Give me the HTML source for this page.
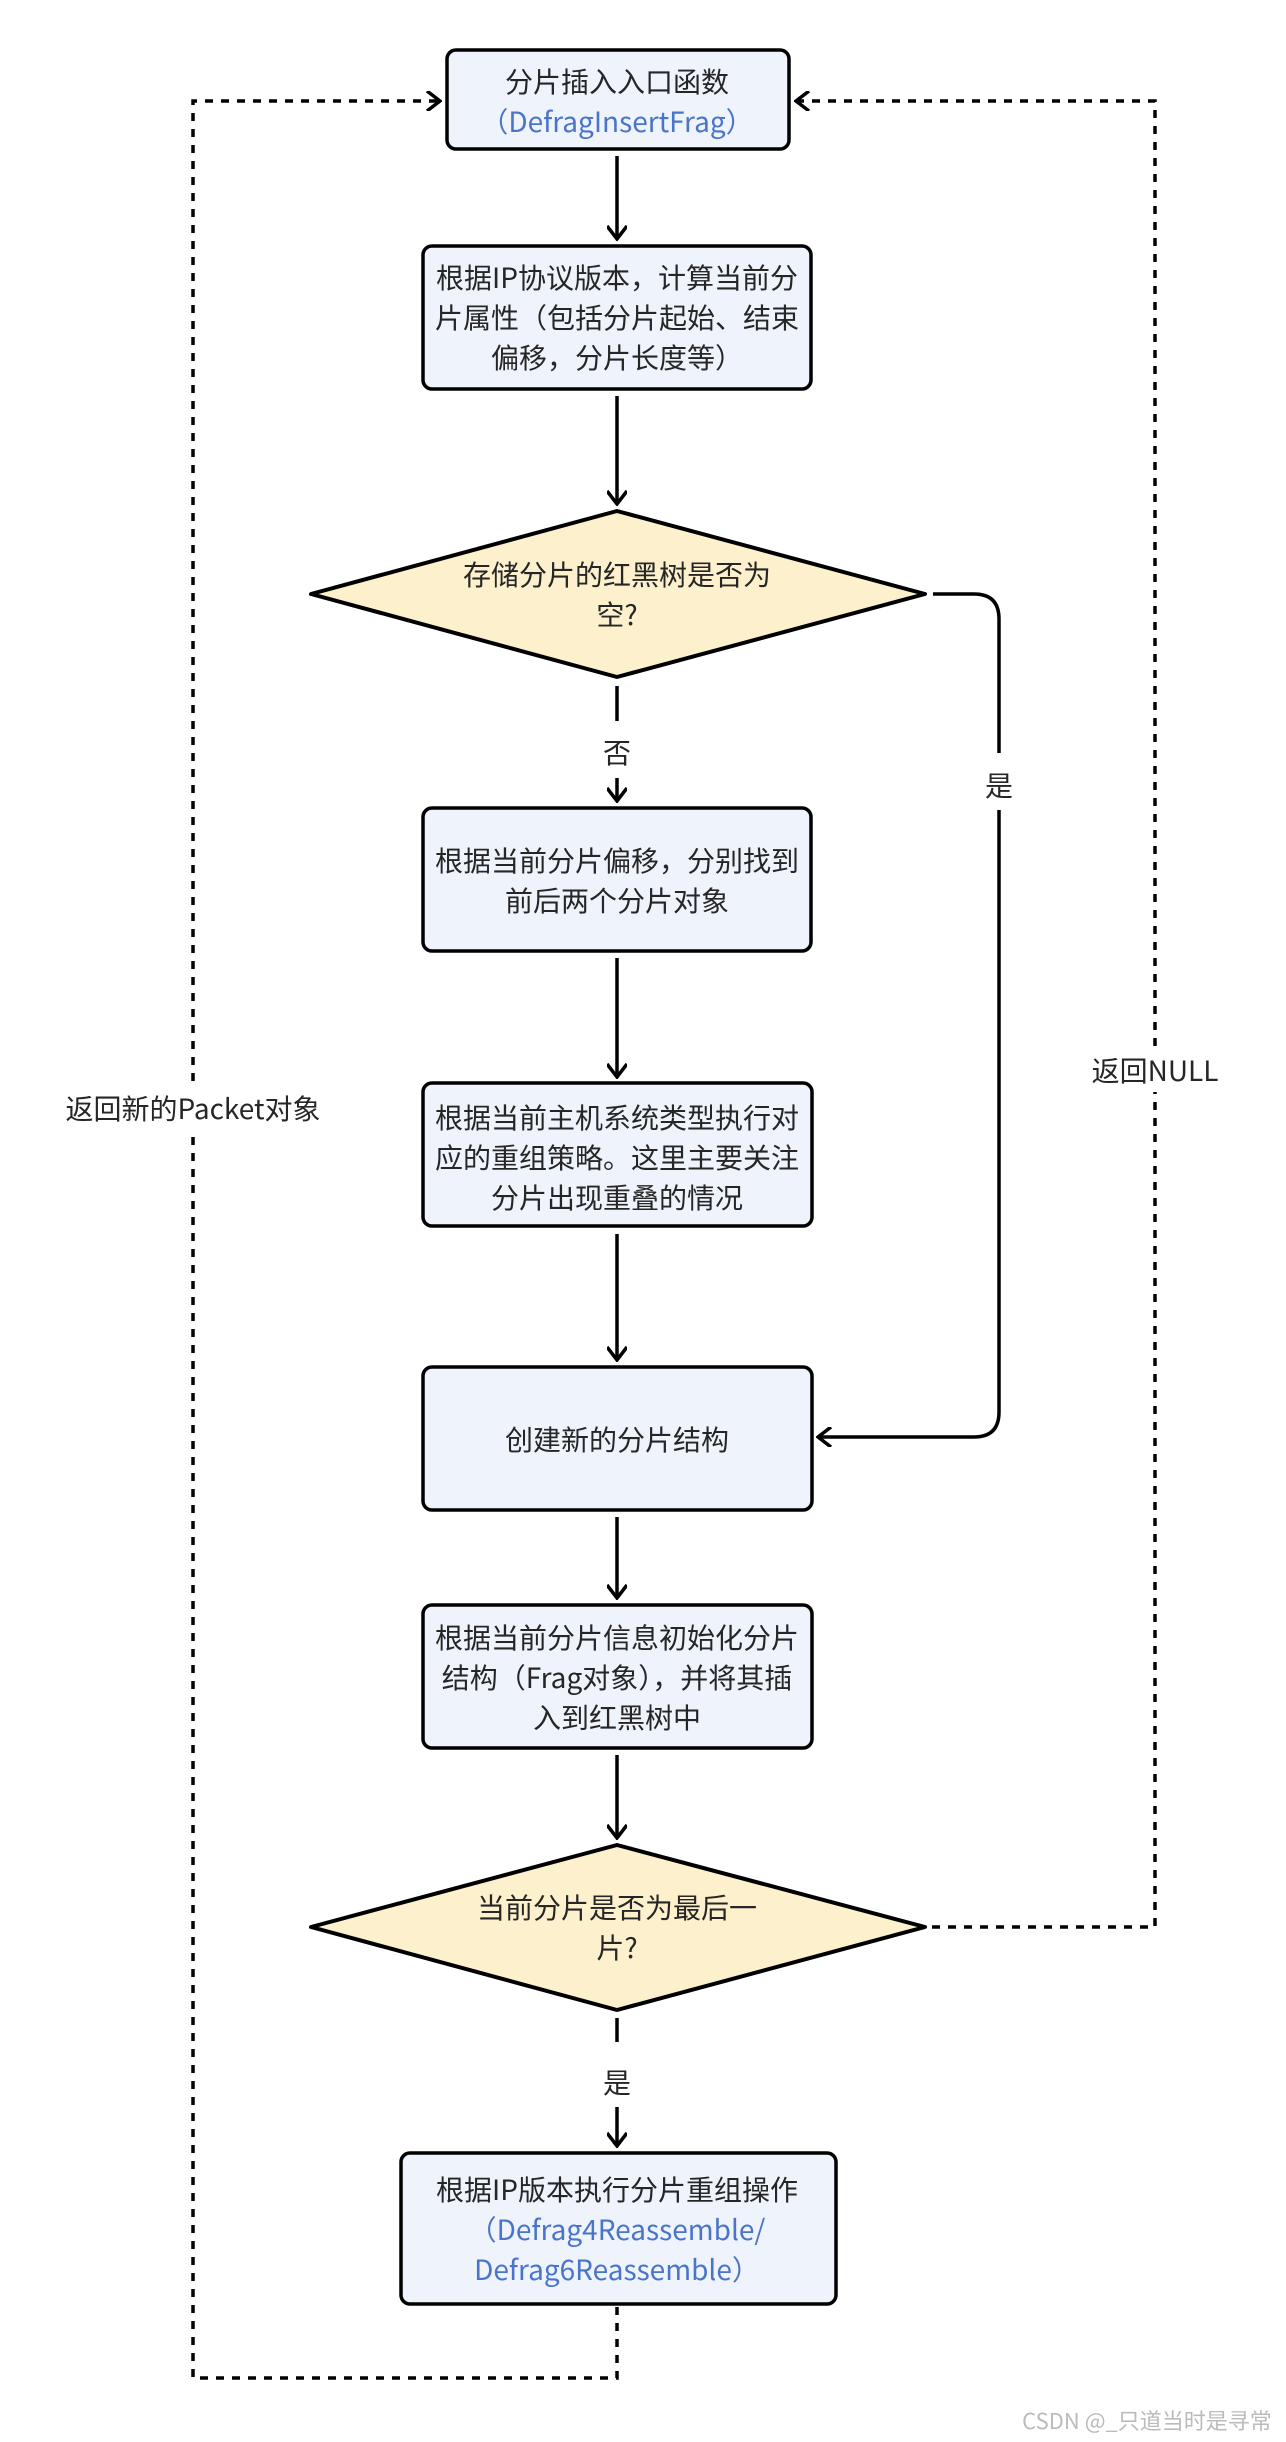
<!DOCTYPE html>
<html><head><meta charset="utf-8"><style>
html,body{margin:0;padding:0;background:#fff;}
svg{display:block;}
text{font-family:"Noto Sans CJK SC","Liberation Sans",sans-serif;font-size:28px;fill:#262626;}
.b{fill:#4a74c9;}
</style></head><body>
<svg width="1286" height="2442" viewBox="0 0 1286 2442" xmlns="http://www.w3.org/2000/svg">
<defs>
<marker id="ah" viewBox="0 0 20 20" refX="18" refY="10" markerWidth="20" markerHeight="20" markerUnits="userSpaceOnUse" orient="auto">
<path d="M5,0 L18,10 L5,20" fill="none" stroke="#000" stroke-width="3.5"/>
</marker>
</defs>
<g fill="none" stroke="#000" stroke-width="3.5" stroke-dasharray="8 8">
<path d="M617,2307 L617,2378 L193,2378 L193,101 L440,101" marker-end="url(#ah)"/>
<path d="M932,1927 L1155,1927 L1155,101 L796,101" marker-end="url(#ah)"/>
</g>
<g fill="none" stroke="#000" stroke-width="3.5">
<line x1="617" y1="156" x2="617" y2="239" marker-end="url(#ah)"/>
<line x1="617" y1="396" x2="617" y2="504" marker-end="url(#ah)"/>
<line x1="617" y1="686" x2="617" y2="721"/>
<line x1="617" y1="778" x2="617" y2="801" marker-end="url(#ah)"/>
<line x1="617" y1="958" x2="617" y2="1077" marker-end="url(#ah)"/>
<line x1="617" y1="1234" x2="617" y2="1360" marker-end="url(#ah)"/>
<line x1="617" y1="1517" x2="617" y2="1598" marker-end="url(#ah)"/>
<line x1="617" y1="1755" x2="617" y2="1838" marker-end="url(#ah)"/>
<line x1="617" y1="2018" x2="617" y2="2042"/>
<line x1="617" y1="2107" x2="617" y2="2146" marker-end="url(#ah)"/>
<path d="M933,594 L974,594 Q999,594 999,619 L999,753"/>
<path d="M999,810 L999,1412 Q999,1437 974,1437 L818,1437" marker-end="url(#ah)"/>
</g>
<g stroke="#000" stroke-width="3.5" fill="#eef3fc">
<rect x="447" y="50" width="342" height="99" rx="9"/>
<rect x="423" y="246" width="388" height="143" rx="9"/>
<rect x="423" y="808" width="388" height="143" rx="9"/>
<rect x="423" y="1083" width="389" height="143" rx="9"/>
<rect x="423" y="1367" width="389" height="143" rx="9"/>
<rect x="423" y="1605" width="389" height="143" rx="9"/>
<rect x="401" y="2153" width="435" height="151" rx="9"/>
</g>
<g stroke="#000" stroke-width="4" fill="#fdf0cc" stroke-linejoin="round">
<polygon points="617,511 925,594 617,677 311,594"/>
<polygon points="617,1845 925,1927 617,2010 311,1927"/>
</g>
<g text-anchor="middle" dominant-baseline="central">
<text x="617" y="81">分片插入入口函数</text>
<text x="617" y="121" class="b">（DefragInsertFrag）</text>
<text x="617" y="277">根据IP协议版本，计算当前分</text>
<text x="617" y="317">片属性（包括分片起始、结束</text>
<text x="617" y="357">偏移，分片长度等）</text>
<text x="617" y="574">存储分片的红黑树是否为</text>
<text x="617" y="614">空?</text>
<text x="617" y="752">否</text>
<text x="999" y="785">是</text>
<text x="617" y="860">根据当前分片偏移，分别找到</text>
<text x="617" y="900">前后两个分片对象</text>
<text x="617" y="1117">根据当前主机系统类型执行对</text>
<text x="617" y="1157">应的重组策略。这里主要关注</text>
<text x="617" y="1197">分片出现重叠的情况</text>
<text x="617" y="1439">创建新的分片结构</text>
<text x="617" y="1637">根据当前分片信息初始化分片</text>
<text x="617" y="1677">结构（Frag对象），并将其插</text>
<text x="617" y="1717">入到红黑树中</text>
<text x="617" y="1907">当前分片是否为最后一</text>
<text x="617" y="1947">片?</text>
<text x="617" y="2082">是</text>
<text x="617" y="2189">根据IP版本执行分片重组操作</text>
<text x="617" y="2229" class="b">（Defrag4Reassemble/</text>
<text x="617" y="2269" class="b">Defrag6Reassemble）</text>
</g>
<rect x="50" y="1085" width="290" height="46" fill="#fff"/>
<rect x="1085" y="1048" width="140" height="44" fill="#fff"/>
<g text-anchor="middle" dominant-baseline="central">
<text x="193" y="1108">返回新的Packet对象</text>
<text x="1155" y="1070">返回NULL</text>
<text x="1147" y="2420" style="font-size:22px;fill:#bbb">CSDN @_只道当时是寻常</text>
</g>
</svg>
</body></html>
